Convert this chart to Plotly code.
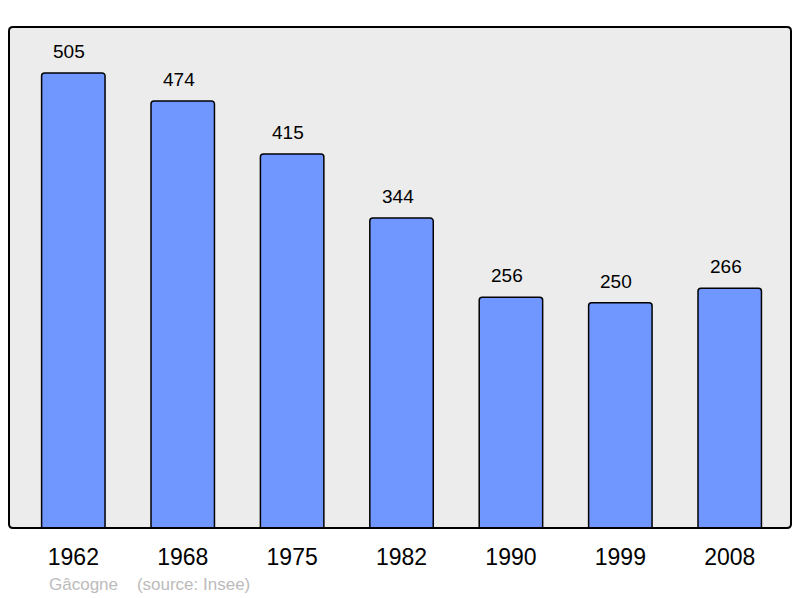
import plotly.graph_objects as go

years = ["1962", "1968", "1975", "1982", "1990", "1999", "2008"]
population = [505, 474, 415, 344, 256, 250, 266]

BAR_COLOR = "#7096ff"
BG_COLOR = "#ececec"

fig = go.Figure()
fig.add_trace(go.Bar(
    x=list(range(len(years))),
    y=population,
    width=0.58,
    marker=dict(color=BAR_COLOR, line=dict(color="#000000", width=1.5), cornerradius=3),
    hoverinfo="skip",
))

# value labels above each bar (sit a little left of centre in the original)
for i, v in enumerate(population):
    fig.add_annotation(
        x=i, y=v, text=str(v), showarrow=False,
        yanchor="bottom", yshift=9, xshift=-4,
        font=dict(size=19, color="#000000"),
    )

# frame round the plot area, slightly rounded corners
rx, ry = 4 / 782, 4 / 501
frame = (f"M {rx},0 L {1-rx},0 Q 1,0 1,{ry} L 1,{1-ry} Q 1,1 {1-rx},1 "
         f"L {rx},1 Q 0,1 0,{1-ry} L 0,{ry} Q 0,0 {rx},0 Z")
fig.add_shape(
    type="path", xref="paper", yref="paper", path=frame,
    line=dict(color="#000000", width=2),
    layer="above",
)

fig.add_annotation(
    xref="paper", yref="paper", x=0.048, y=-0.112,
    xanchor="left", yanchor="middle",
    text="Gâcogne&nbsp;&nbsp;&nbsp;&nbsp;(source: Insee)",
    showarrow=False,
    font=dict(size=17, color="#bbbbbb"),
)

# page body has an 8px margin, so the figure is a bit smaller than the window
fig.update_layout(
    width=792,
    height=590,
    margin=dict(l=1, r=9, t=19, b=70),
    plot_bgcolor=BG_COLOR,
    paper_bgcolor="white",
    showlegend=False,
    font=dict(family="Liberation Sans, Arial, sans-serif"),
)
fig.update_xaxes(
    range=[-0.588, 6.56],
    tickvals=list(range(len(years))),
    ticktext=years,
    tickfont=dict(size=23, color="#000000"),
    showgrid=False,
    zeroline=False,
    ticks="outside",
    ticklen=8,
    tickcolor="rgba(0,0,0,0)",
)
fig.update_yaxes(
    range=[0, 556],
    showgrid=False,
    zeroline=False,
    showticklabels=False,
)

fig.write_html("out.html")
